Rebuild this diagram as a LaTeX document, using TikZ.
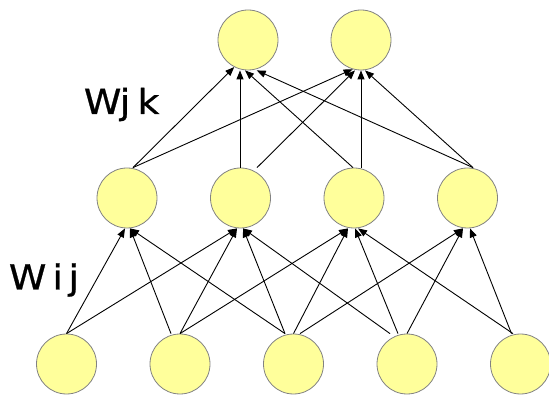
\documentclass[tikz,border=0pt]{standalone}
\usepackage{fontspec}
\setmainfont{DejaVu Sans}
\newfontfamily\wlabelfont[FakeBold=0.7]{DejaVu Sans}
\usetikzlibrary{arrows.meta}
\definecolor{nodefill}{RGB}{255,255,155}
\definecolor{nodeedge}{RGB}{130,130,130}
\tikzset{
  neuron/.style={circle, draw=nodeedge, fill=nodefill, line width=0.8pt, minimum size=60pt, inner sep=0pt},
  conn/.style={line width=0.9pt, -{Triangle[length=9pt,width=7pt]}},
  wlabel/.style={anchor=base west, inner sep=0pt, font=\wlabelfont\fontsize{34.5}{36}\selectfont}
}
\begin{document}
\begin{tikzpicture}[x=1pt,y=-1pt]
\useasboundingbox (0,0) rectangle (549,395);
% nodes
\node[neuron] (o1) at (248,40) {};
\node[neuron] (o2) at (361,40) {};
\node[neuron] (h1) at (127,198) {};
\node[neuron] (h2) at (240.5,198) {};
\node[neuron] (h3) at (354,198) {};
\node[neuron] (h4) at (467.5,198) {};
\node[neuron] (i1) at (66.5,364) {};
\node[neuron] (i2) at (180,364) {};
\node[neuron] (i3) at (293.5,364) {};
\node[neuron] (i4) at (407,364) {};
\node[neuron] (i5) at (520.5,364) {};
% labels
\node[wlabel] (wjk) at (83.7,114) {\scalebox{1.1}[1]{W\kern-1.5pt j\kern6.5pt k}};
\node[wlabel] (wij) at (8.7,289.5) {\scalebox{1.1}[1]{W\kern5.5pt i\kern5pt j}};
% input -> hidden
\draw[conn] ([xshift=0pt]i1.north) -- ([xshift=-2pt]h1.south);
\draw[conn] ([xshift=0pt]i1.north) -- ([xshift=-3.5pt]h2.south);
\draw[conn] ([xshift=-9pt]i2.north) -- ([xshift=3pt]h1.south);
\draw[conn] ([xshift=0pt]i2.north) -- ([xshift=-3.5pt]h2.south);
\draw[conn] ([xshift=0pt]i2.north) -- ([xshift=-6pt]h3.south);
\draw[conn] ([xshift=-8.5pt]i3.north) -- ([xshift=3pt]h1.south);
\draw[conn] ([xshift=-8.5pt]i3.north) -- ([xshift=2.5pt]h2.south);
\draw[conn] ([xshift=0pt]i3.north) -- ([xshift=-6pt]h3.south);
\draw[conn] ([xshift=6.5pt]i3.north) -- ([xshift=-4.5pt]h4.south);
\draw[conn] ([xshift=-17pt]i4.north) -- ([xshift=2.5pt]h2.south);
\draw[conn] ([xshift=-9pt]i4.north) -- ([xshift=1pt]h3.south);
\draw[conn] ([xshift=0pt]i4.north) -- ([xshift=-4.5pt]h4.south);
\draw[conn] ([xshift=-7.5pt]i5.north) -- ([xshift=4pt]h3.south);
\draw[conn] ([xshift=-9pt]i5.north) -- ([xshift=2.5pt]h4.south);
% hidden -> output
\draw[conn] ([xshift=6pt]h1.north) -- (o1.243);
\draw[conn] ([xshift=6pt]h1.north) -- (o2.254);
\draw[conn] ([xshift=-0.5pt]h2.north) -- ([xshift=-8pt]o1.south);
\draw[conn] ([xshift=16.5pt]h2.north) -- ([xshift=-6pt]o2.south);
\draw[conn] ([xshift=-1pt]h3.north) -- ([xshift=-3pt]o1.south);
\draw[conn] ([xshift=7pt]h3.north) -- ([xshift=0pt]o2.south);
\draw[conn] ([xshift=5.5pt]h4.north) -- ([xshift=8.7pt]o1.south);
\draw[conn] ([xshift=5.5pt]h4.north) -- ([xshift=4pt]o2.south);
\end{tikzpicture}
\end{document}
